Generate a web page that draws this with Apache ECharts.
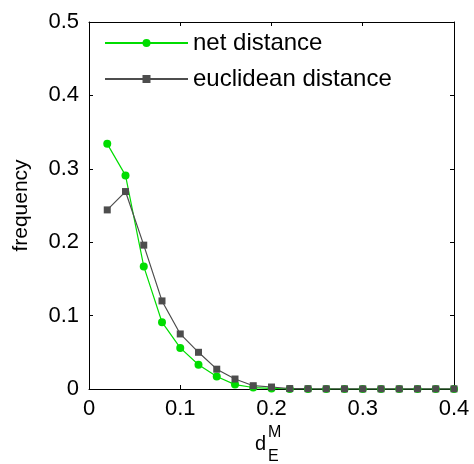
<!DOCTYPE html>
<html>
<head>
<meta charset="utf-8">
<script src="https://cdn.jsdelivr.net/npm/echarts@6/dist/echarts.min.js"></script>
<style>
html,body{margin:0;padding:0;background:#fff;}
#c{width:474px;height:464px;}
</style>
</head>
<body>
<div id="c"></div>
<script>
var xValues = [0.02,0.04,0.06,0.08,0.10,0.12,0.14,0.16,0.18,0.20,0.22,0.24,0.26,0.28,0.30,0.32,0.34,0.36,0.38,0.40];
var netDistance = [0.334,0.291,0.167,0.091,0.056,0.033,0.017,0.006,0.002,0.0008,0,0,0,0,0,0,0,0,0,0];
var euclideanDistance = [0.244,0.269,0.196,0.120,0.075,0.050,0.027,0.0136,0.0045,0.0027,0.0006,0.0004,0.0003,0.0002,0.0002,0.0002,0.0002,0.0002,0.0002,0.0002];
var seriesNames = ['net distance','euclidean distance'];
var yAxisTitle = 'frequency';

function pairs(xs, ys){ return xs.map(function(x,i){ return [x, ys[i]]; }); }

var font = 'Liberation Sans, Arial, Helvetica, sans-serif';
var chart = echarts.init(document.getElementById('c'), null, {renderer:'canvas'});
var boxAxisX = {
  type:'value', min:0, max:0.4, interval:0.1,
  axisLine:{show:true, onZero:false, lineStyle:{color:'#000', width:1}},
  axisTick:{show:true, inside:true, length:4, lineStyle:{color:'#000'}},
  splitLine:{show:false}
};
var boxAxisY = {
  type:'value', min:0, max:0.5, interval:0.1,
  axisLine:{show:true, onZero:false, lineStyle:{color:'#000', width:1}},
  axisTick:{show:true, inside:true, length:4, lineStyle:{color:'#000'}},
  splitLine:{show:false}
};
chart.setOption({
  animation:false,
  backgroundColor:'#fff',
  grid:{left:89, right:20, top:22, bottom:75, containLabel:false},
  xAxis:[
    Object.assign({}, boxAxisX, {position:'bottom',
      axisLabel:{color:'#000', fontSize:22, fontFamily:font, margin:9}}),
    Object.assign({}, boxAxisX, {position:'top', axisLabel:{show:false}})
  ],
  yAxis:[
    Object.assign({}, boxAxisY, {position:'left',
      name:yAxisTitle, nameLocation:'middle', nameGap:57,
      nameTextStyle:{color:'#000', fontSize:21, fontFamily:font},
      axisLabel:{color:'#000', fontSize:22, fontFamily:font, margin:10}}),
    Object.assign({}, boxAxisY, {position:'right', axisLabel:{show:false}})
  ],
  legend:{
    orient:'vertical', left:104, top:31, padding:0, itemGap:12,
    itemWidth:83, itemHeight:10,
    textStyle:{color:'#000', fontSize:24, fontFamily:font},
    data:seriesNames
  },
  graphic:[
    {type:'text', left:255, top:434, style:{text:'d', font:'20px '+font, fill:'#000'}},
    {type:'text', left:268, top:425, style:{text:'M', font:'16px '+font, fill:'#000'}},
    {type:'text', left:268, top:449, style:{text:'E', font:'16px '+font, fill:'#000'}}
  ],
  series:[
    {name:seriesNames[0], type:'line', data:pairs(xValues, netDistance),
      symbol:'circle', symbolSize:8, showSymbol:true,
      itemStyle:{color:'#00dd00'}, lineStyle:{color:'#00dd00', width:1.2}},
    {name:seriesNames[1], type:'line', data:pairs(xValues, euclideanDistance),
      symbol:'rect', symbolSize:7, showSymbol:true,
      itemStyle:{color:'#4d4d4d'}, lineStyle:{color:'#4d4d4d', width:1.2}}
  ]
});
</script>
</body>
</html>
